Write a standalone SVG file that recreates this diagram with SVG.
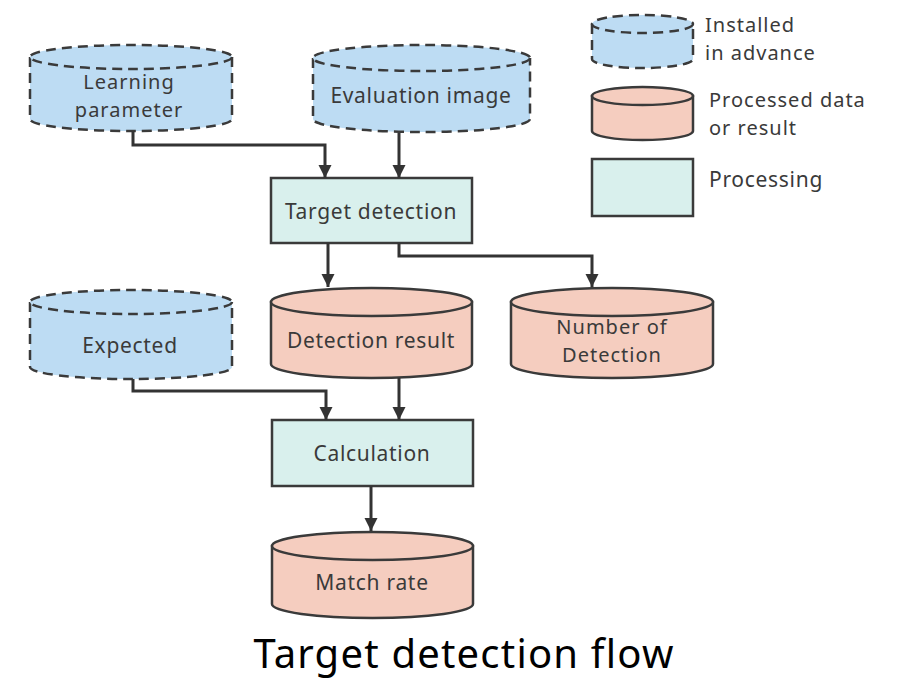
<svg xmlns="http://www.w3.org/2000/svg" width="902" height="681" viewBox="0 0 902 681">
<style>
text{font-family:"Noto Sans","Open Sans","DejaVu Sans",sans-serif;font-size:21px;letter-spacing:0.7px;fill:#3a3a3a}
.lbl{text-anchor:middle}
.tight{font-size:20px;letter-spacing:1px}
.inst{fill:#bddcf3;stroke:#3a3a3a;stroke-width:2.5;stroke-dasharray:10 6}
.proc{fill:#f5cdbf;stroke:#3a3a3a;stroke-width:2.5}
.box{fill:#d9f0ed;stroke:#3a3a3a;stroke-width:2.5}
.con{fill:none;stroke:#333;stroke-width:3}
</style>
<defs>
<marker id="ah" viewBox="0 0 10 10" refX="10" refY="5" markerWidth="4.4" markerHeight="4.4" orient="auto" markerUnits="strokeWidth">
<path d="M0,0 L10,5 L0,10 Z" fill="#333"/>
</marker>
</defs>
<rect width="902" height="681" fill="#fff"/>

<g id="learning-parameter">
<path class="inst" d="M30,57 L30,119 A101,12 0 0 0 232,119 L232,57"/>
<ellipse class="inst" cx="131" cy="57" rx="101" ry="12"/>
<text class="lbl tight" x="129" y="89">Learning</text>
<text class="lbl tight" x="129" y="117">parameter</text>
</g>

<g id="evaluation-image">
<path class="inst" d="M313,58 L313,119 A108.5,13 0 0 0 530,119 L530,58"/>
<ellipse class="inst" cx="421.5" cy="58" rx="108.5" ry="13"/>
<text class="lbl" x="421" y="103">Evaluation image</text>
</g>

<g id="target-detection">
<rect class="box" x="271" y="178" width="201" height="65"/>
<text class="lbl" x="371" y="219">Target detection</text>
</g>

<g id="expected">
<path class="inst" d="M30,302 L30,367 A101,12 0 0 0 232,367 L232,302"/>
<ellipse class="inst" cx="131" cy="302" rx="101" ry="12"/>
<text class="lbl" x="130" y="353">Expected</text>
</g>

<g id="detection-result">
<path class="proc" d="M271,302 L271,364 A100.5,14 0 0 0 472,364 L472,302 Z"/>
<ellipse class="proc" cx="371.5" cy="302" rx="100.5" ry="14"/>
<text class="lbl" x="371" y="348">Detection result</text>
</g>

<g id="number-of-detection">
<path class="proc" d="M511,302 L511,364 A101,14 0 0 0 713,364 L713,302 Z"/>
<ellipse class="proc" cx="612" cy="302" rx="101" ry="14"/>
<text class="lbl tight" x="612" y="334">Number of</text>
<text class="lbl tight" x="612" y="362">Detection</text>
</g>

<g id="calculation">
<rect class="box" x="272" y="420" width="201" height="66"/>
<text class="lbl" x="372" y="461">Calculation</text>
</g>

<g id="match-rate">
<path class="proc" d="M272,546 L272,604 A100.5,14 0 0 0 473,604 L473,546 Z"/>
<ellipse class="proc" cx="372.5" cy="546" rx="100.5" ry="14"/>
<text class="lbl" x="372" y="590">Match rate</text>
</g>

<g id="legend">
<path class="inst" d="M592,24 L592,59 A50.5,9 0 0 0 693,59 L693,24"/>
<ellipse class="inst" cx="642.5" cy="24" rx="50.5" ry="9"/>
<text class="tight" x="705" y="32">Installed</text>
<text class="tight" x="705" y="60">in advance</text>
<path class="proc" d="M592,96 L592,131 A50.5,9 0 0 0 693,131 L693,96 Z"/>
<ellipse class="proc" cx="642.5" cy="96" rx="50.5" ry="9"/>
<text class="tight" x="709" y="107">Processed data</text>
<text class="tight" x="709" y="135">or result</text>
<rect class="box" x="592" y="159" width="101" height="57"/>
<text x="709" y="187">Processing</text>
</g>

<g id="connectors">
<path class="con" d="M133,131 L133,145 L325,145 L325,178" marker-end="url(#ah)"/>
<path class="con" d="M399,133 L399,178" marker-end="url(#ah)"/>
<path class="con" d="M328,243 L328,287" marker-end="url(#ah)"/>
<path class="con" d="M399,243 L399,256 L592,256 L592,287" marker-end="url(#ah)"/>
<path class="con" d="M133,379 L133,391 L326,391 L326,420" marker-end="url(#ah)"/>
<path class="con" d="M399,378 L399,420" marker-end="url(#ah)"/>
<path class="con" d="M371,486 L371,531" marker-end="url(#ah)"/>
</g>

<text x="464" y="668" text-anchor="middle" style="font-size:40px;letter-spacing:1.2px;fill:#000">Target detection flow</text>
</svg>
